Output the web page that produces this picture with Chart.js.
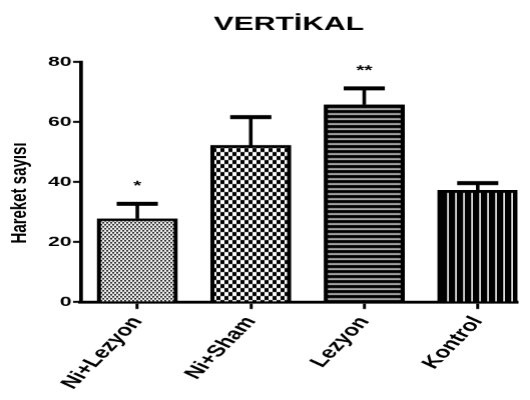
<!DOCTYPE html>
<html>
<head>
<meta charset="utf-8">
<script src="https://cdn.jsdelivr.net/npm/chart.js@4"></script>
<style>
html, body { margin: 0; padding: 0; background: #fff; overflow: hidden; }
#wrap { width: 530px; height: 400px; position: relative; }
/* the reference is drawn wide: render narrow and stretch sideways */
#chart { position: absolute; left: 0; top: 0; transform-origin: 0 0; transform: scaleX(1.5014); }
</style>
</head>
<body>
<div id="wrap"><canvas id="chart" width="353" height="400"></canvas></div>
<script>
var categories = ["Ni+Lezyon", "Ni+Sham", "Lezyon", "Kontrol"];
var means = [27.8, 52.2, 65.8, 37.2];
var sems = [4.9, 9.4, 5.4, 2.4];
var stars = ["*", "", "**", ""];
var yTicks = [0, 20, 40, 60, 80];
var titleText = "VERTİKAL";
var yTitle = "Hareket sayısı";

var FONT = "'Liberation Sans', Arial, sans-serif";
var SX = 1.5; // horizontal stretch, pattern tiles are drawn in screen pixels

function makePattern(w, h, paint) {
	var tile = document.createElement("canvas");
	tile.width = w; tile.height = h;
	var t = tile.getContext("2d");
	t.fillStyle = "#fff"; t.fillRect(0, 0, w, h);
	t.fillStyle = "#000";
	paint(t);
	var p = document.getElementById("chart").getContext("2d").createPattern(tile, "repeat");
	p.setTransform(new DOMMatrix([1 / SX, 0, 0, 1, 0, 0]));
	return p;
}

var fills = [
	// fine stipple
	makePattern(4, 4, function(t){ t.fillRect(0, 0, 2, 1.5); t.fillRect(2, 2, 2, 1.5); }),
	// checkerboard
	makePattern(8, 8, function(t){ t.fillRect(0, 0, 4, 4); t.fillRect(4, 4, 4, 4); }),
	// horizontal lines
	makePattern(4, 5, function(t){ t.fillRect(0, 0, 4, 3.5); t.fillStyle = "#bbb"; t.fillRect(0, 3.5, 4, 1.5); }),
	// vertical lines
	makePattern(8, 4, function(t){ t.fillRect(0, 0, 6.5, 4); t.fillStyle = "#ddd"; t.fillRect(6.5, 0, 1.5, 4); })
];

var decor = {
	id: "decor",
	afterDatasetsDraw: function(chart) {
		var ctx = chart.ctx, y = chart.scales.y;
		var bars = chart.getDatasetMeta(0).data;
		ctx.save();
		ctx.strokeStyle = "#000";
		ctx.fillStyle = "#000";
		bars.forEach(function(bar, i) {
			var top = y.getPixelForValue(means[i]);
			var cap = y.getPixelForValue(means[i] + sems[i]);
			ctx.lineWidth = 2.4;
			ctx.beginPath(); ctx.moveTo(bar.x, top); ctx.lineTo(bar.x, cap); ctx.stroke();
			ctx.lineWidth = 4;
			ctx.beginPath(); ctx.moveTo(bar.x - 13.7, cap); ctx.lineTo(bar.x + 13.7, cap); ctx.stroke();
			if (stars[i]) {
				ctx.font = "bold 14px " + FONT;
				ctx.textAlign = "center";
				ctx.textBaseline = "alphabetic";
				ctx.fillText(stars[i], bar.x, cap - 14);
			}
		});
		ctx.font = "bold 20px " + FONT;
		ctx.textAlign = "center";
		ctx.textBaseline = "alphabetic";
		ctx.fillText(titleText, 192.2, 30);
		ctx.translate(13, 193);
		ctx.rotate(-Math.PI / 2);
		ctx.font = "bold 15px " + FONT;
		ctx.textBaseline = "middle";
		ctx.fillText(yTitle, 0, 0);
		ctx.restore();
	}
};

var config = {
	type: "bar",
	data: {
		datasets: [{
			data: categories.map(function(c, i){ return { x: i, y: means[i] }; }),
			backgroundColor: fills,
			borderColor: "#000",
			borderWidth: 2.8,
			barThickness: 53.3
		}]
	},
	options: {
		responsive: false,
		devicePixelRatio: 1.5,
		animation: false,
		layout: { padding: { top: 62, right: 8.7, bottom: 0, left: 0 } },
		plugins: {
			legend: { display: false },
			title: { display: false },
			tooltip: { enabled: false }
		},
		scales: {
			x: {
				type: "linear",
				min: -0.5,
				max: 3.35,
				offset: false,
				afterBuildTicks: function(a){ a.ticks = categories.map(function(c, i){ return { value: i }; }); },
				afterFit: function(a){ a.height = 98; },
				border: { display: true, color: "#000", width: 3 },
				grid: { offset: false, drawOnChartArea: false, drawTicks: true, tickLength: 7, tickWidth: 2, color: "#000", tickColor: "#000" },
				ticks: {
					autoSkip: false, minRotation: 56, maxRotation: 56, padding: 4, color: "#000",
					font: { family: FONT, size: 16.5, weight: "bold" },
					callback: function(v, i){ return categories[i]; }
				}
			},
			y: {
				min: 0,
				max: 80,
				afterBuildTicks: function(a){ a.ticks = yTicks.map(function(v){ return { value: v }; }); },
				afterFit: function(a){ a.width = 53.6; },
				border: { display: true, color: "#000", width: 2.5 },
				grid: { drawOnChartArea: false, drawTicks: true, tickLength: 5, tickWidth: 2, color: "#000", tickColor: "#000" },
				ticks: { color: "#000", padding: 1, font: { family: FONT, size: 14, weight: "bold" } }
			}
		}
	},
	plugins: [decor]
};

window.onload = function() {
	var ctx = document.getElementById("chart").getContext("2d");
	window.myBar = new Chart(ctx, config);
};
</script>
</body>
</html>
